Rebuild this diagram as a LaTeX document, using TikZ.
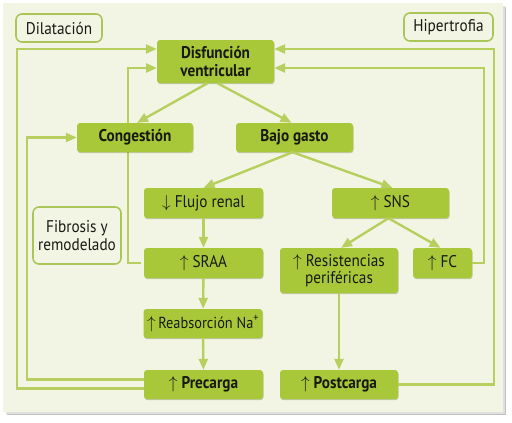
\documentclass[tikz,border=0pt]{standalone}
\usepackage{fontspec}
\setmainfont{PT Sans}[FakeStretch=0.9]
\usepackage{tikz}
\usepackage{xcolor}
\usetikzlibrary{arrows.meta,shadows}

\definecolor{panelbg}{RGB}{242,245,228}
\definecolor{boxgreen}{RGB}{168,200,58}
\definecolor{linegreen}{RGB}{182,207,94}
\definecolor{notegreen}{RGB}{170,198,88}
\definecolor{txt}{RGB}{24,26,18}

\tikzset{
  box/.style={fill=boxgreen, rounded corners=3bp, text=txt, align=center,
    inner sep=0pt, font=\fontsize{17}{17.5}\selectfont,
    drop shadow={shadow xshift=0.5bp, shadow yshift=-1.2bp, fill=boxgreen!60!black, opacity=0.35}},
  boldbox/.style={box, font=\fontsize{17}{17.5}\selectfont\bfseries},
  note/.style={draw=notegreen, line width=1.6bp, fill=panelbg, rounded corners=6bp,
    text=txt, align=center, inner sep=0pt, font=\fontsize{17}{17.5}\selectfont},
  link/.style={draw=linegreen, line width=2.4bp,
    -{Triangle[length=11bp,width=9bp]}}
}

\begin{document}
\begin{tikzpicture}[x=1bp,y=-1bp]
\useasboundingbox (0,0) rectangle (512,422);
% panel with shadow
\fill[black!25] (7,7) rectangle (506,415);
\fill[black!12] (6,6) rectangle (505,414);
\fill[panelbg] (3,3) rectangle (503,412);

% labels
\node[note, minimum width=86bp, minimum height=28bp] (dil) at (59,28) {Dilatación};
\node[note, minimum width=89bp, minimum height=28bp] (hip) at (448.5,27) {Hipertrofia};
\node[note, minimum width=88bp, minimum height=57bp] (fib) at (77,235.5) {Fibrosis y\\remodelado};

% feedback corners
\coordinate (disfw) at (157,61.5);
\coordinate (disfe) at (274,61.5);
\coordinate (lo) at ([xshift=-140bp,yshift=12.5bp]disfw);
\coordinate (lm) at ([xshift=-29bp,yshift=-6.5bp]disfw);
\coordinate (ri) at ([xshift=210bp,yshift=-6.5bp]disfe);
\coordinate (ro) at ([xshift=220bp,yshift=12.5bp]disfe);

% line behind Congestión
\draw[link] (141,263) -| (lm) -- ([yshift=-6.5bp]disfw);

% main chain
\node[boldbox, minimum width=117bp, minimum height=43bp] (disf) at (215.5,61.5) {Disfunción\\ventricular};
\node[boldbox, minimum width=116bp, minimum height=29bp] (cong) at (135,137.5) {Congestión};
\node[boldbox, minimum width=117bp, minimum height=29bp] (bajo) at (294.5,137.5) {Bajo gasto};
\node[box, minimum width=119bp, minimum height=30bp] (flujo) at (203.5,203) {$\downarrow$ Flujo renal};
\node[box, minimum width=117bp, minimum height=30bp] (sns) at (390.5,203) {$\uparrow$ SNS};
\node[box, minimum width=119bp, minimum height=30bp] (sraa) at (203.5,263) {$\uparrow$ SRAA};
\node[box, minimum width=119bp, minimum height=29bp, font=\fontsize{16}{17.5}\selectfont] (reab) at (203,323.5) {$\uparrow$\,Reabsorción Na\textsuperscript{+}};
\node[box, minimum width=119bp, minimum height=29bp] (prec) at (203.5,384.5) {$\uparrow$ \textbf{Precarga}};
\node[box, minimum width=118bp, minimum height=45bp] (resis) at (339,270.5) {$\uparrow$ Resistencias\\periféricas};
\node[box, minimum width=59bp, minimum height=30bp] (fc) at (442.5,263) {$\uparrow$ FC};
\node[box, minimum width=118bp, minimum height=29bp] (post) at (339,384.5) {$\uparrow$ \textbf{Postcarga}};

\coordinate (li) at ([xshift=-50bp]cong.west);

\draw[link] ([yshift=-4bp]prec.west) -| (lo) -- ([yshift=12.5bp]disf.west);
\draw[link] ([yshift=5bp]prec.west) -| (li) -- (cong.west);
\draw[link] (fc.east) -| (ri) -- ([yshift=-6.5bp]disf.east);
\draw[link] (post.east) -| (ro) -- ([yshift=12.5bp]disf.east);

\draw[link] ([xshift=-8bp]disf.south) -- ([xshift=2bp]cong.north);
\draw[link] ([xshift=2bp]disf.south) -- ([xshift=-3bp]bajo.north);
\draw[link] ([xshift=-2bp]bajo.south) -- (flujo.north);
\draw[link] ([xshift=-2bp]bajo.south) -- ([xshift=2bp]sns.north);
\draw[link] (flujo) -- (sraa);
\draw[link] (sraa) -- (reab);
\draw[link] (reab) -- (prec);
\draw[link] ([xshift=-2bp]sns.south) -- ([xshift=2bp]resis.north);
\draw[link] ([xshift=-2bp]sns.south) -- ([xshift=-2bp]fc.north);
\draw[link] (resis) -- (post);
\end{tikzpicture}
\end{document}
